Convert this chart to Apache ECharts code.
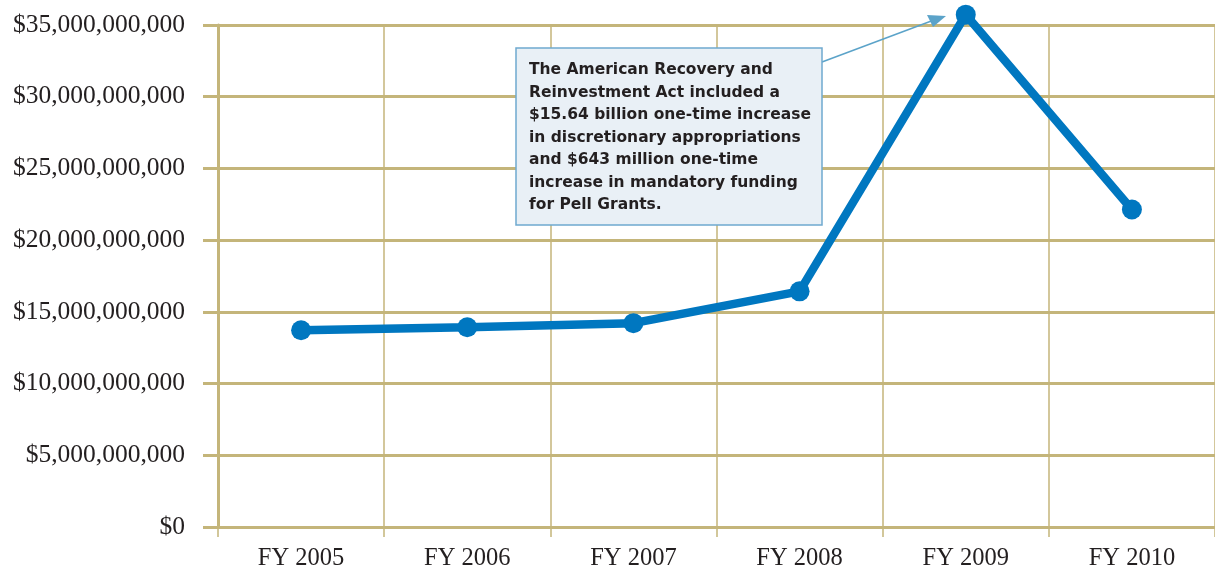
<!DOCTYPE html>
<html>
<head>
<meta charset="utf-8">
<script src="https://cdn.jsdelivr.net/npm/echarts@6/dist/echarts.min.js"></script>
<style>
html,body{margin:0;padding:0;background:#fff;}
#c{width:1215px;height:571px;}
</style>
</head>
<body>
<div id="c"></div>
<script>
var categories = ['FY 2005','FY 2006','FY 2007','FY 2008','FY 2009','FY 2010'];
var funding = [13.72e9, 13.93e9, 14.21e9, 16.43e9, 35.72e9, 22.14e9];
var yTicks = [0, 5e9, 10e9, 15e9, 20e9, 25e9, 30e9, 35e9];
var noteLines = [
  'The American Recovery and',
  'Reinvestment Act included a',
  '$15.64 billion one-time increase',
  'in discretionary appropriations',
  'and $643 million one-time',
  'increase in mandatory funding',
  'for Pell Grants.'
];

var tan = '#C4B57A';
var chart = echarts.init(document.getElementById('c'));

function fmt(v){
  return '$' + String(Math.round(v)).replace(/\B(?=(\d{3})+(?!\d))/g, ',');
}

chart.setOption({
  animation: false,
  grid: {left: 218, right: -2, top: 25, bottom: 43, containLabel: false},
  xAxis: {
    type: 'category',
    data: categories,
    boundaryGap: true,
    axisLine: {show: true, lineStyle: {color: tan, width: 3}},
    axisTick: {show: true, length: 10, lineStyle: {color: tan, width: 1.5}},
    splitLine: {show: true, lineStyle: {color: tan, width: 1.5}},
    axisLabel: {color: '#231F20', fontFamily: 'Liberation Serif', fontSize: 24.5, margin: 19}
  },
  yAxis: {
    type: 'value',
    min: yTicks[0],
    max: yTicks[yTicks.length - 1],
    interval: yTicks[1] - yTicks[0],
    axisLine: {show: true, lineStyle: {color: tan, width: 3}},
    axisTick: {show: true, length: 15, lineStyle: {color: tan, width: 3}},
    splitLine: {show: true, lineStyle: {color: tan, width: 3}},
    axisLabel: {color: '#231F20', fontFamily: 'Liberation Serif', fontSize: 25.5, margin: 33,
      verticalAlign: 'middle', padding: [5, 0, 0, 0], formatter: fmt}
  },
  series: [{
    type: 'line',
    data: funding,
    clip: false,
    symbol: 'circle',
    symbolSize: 20,
    lineStyle: {color: '#0077C0', width: 8.5},
    itemStyle: {color: '#0077C0'},
    z: 5
  }],
  graphic: [
    {
      type: 'line',
      shape: {x1: 822, y1: 62, x2: 934, y2: 20},
      style: {stroke: '#5BA3C9', lineWidth: 1.5},
      z: 10
    },
    {
      type: 'polygon',
      shape: {points: [[946, 16], [927, 15], [933, 27]]},
      style: {fill: '#5BA3C9'},
      z: 10
    },
    {
      type: 'rect',
      shape: {x: 516, y: 48, width: 306, height: 177},
      style: {fill: '#E9F0F6', stroke: '#6FA9CF', lineWidth: 1.5},
      z: 10
    },
    {
      type: 'text',
      x: 529,
      y: 59,
      style: {
        text: noteLines.join('\n'),
        font: 'bold 15.5px "DejaVu Sans"',
        lineHeight: 22.5,
        fill: '#231F20'
      },
      z: 11
    }
  ]
});
</script>
</body>
</html>
